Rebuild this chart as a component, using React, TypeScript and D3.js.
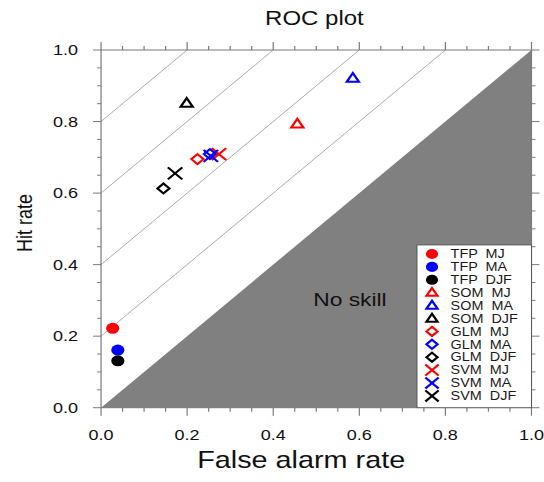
import React from 'react'
import * as d3 from 'd3'

// seasons in legend order, one colour per season
const seasons = ['MJ', 'MA', 'DJF']
const seasonColors = ['#ff0000', '#0000ff', '#000000']
const models = ['TFP', 'SOM', 'GLM', 'SVM']
const shapes = ['circle', 'triangle', 'diamond', 'cross']

// false alarm rate / hit rate, per model, in season order (MJ, MA, DJF)
const tfpFar = [0.027, 0.039, 0.039]
const tfpHit = [0.222, 0.161, 0.131]
const somFar = [0.456, 0.585, 0.199]
const somHit = [0.793, 0.921, 0.851]
const glmFar = [0.224, 0.253, 0.145]
const glmHit = [0.695, 0.709, 0.613]
const svmFar = [0.274, 0.255, 0.172]
const svmHit = [0.709, 0.704, 0.655]

const farByModel = [tfpFar, somFar, glmFar, svmFar]
const hitByModel = [tfpHit, somHit, glmHit, svmHit]

const tickValues = [0, 0.2, 0.4, 0.6, 0.8, 1.0]
const skillOffsets = [0.2, 0.4, 0.6, 0.8]

const FONT = 'Liberation Sans, Arial, Helvetica, sans-serif'
// the reference is a square plot stretched 1.2x horizontally
const SX = 1.2

const Marker = ({ shape, color, x, y, k = 1 }) => {
  if (shape === 'circle') {
    return <circle cx={x} cy={y} r={5.5 * k} fill={color} />
  }
  if (shape === 'triangle') {
    const pts = [[0, -5.2], [5, 3.4], [-5, 3.4]].map(p => `${x + p[0] * k},${y + p[1] * k}`).join(' ')
    return <polygon points={pts} fill="none" stroke={color} strokeWidth={2} />
  }
  if (shape === 'diamond') {
    const pts = [[0, -5], [5, 0], [0, 5], [-5, 0]].map(p => `${x + p[0] * k},${y + p[1] * k}`).join(' ')
    return <polygon points={pts} fill="none" stroke={color} strokeWidth={2} />
  }
  const s = 6 * k
  return (
    <g stroke={color} strokeWidth={2}>
      <line x1={x - s} y1={y - s} x2={x + s} y2={y + s} />
      <line x1={x - s} y1={y + s} x2={x + s} y2={y - s} />
    </g>
  )
}

export default function App () {
  const width = 544
  const height = 482

  const xScale = d3.scaleLinear().domain([0, 1]).range([84.2, 442.9])
  const yScale = d3.scaleLinear().domain([0, 1]).range([407.7, 50])

  const minor = d3.range(0, 1.0001, 0.05)
  const axisColor = '#7a7a7a'

  const legendTop = 254
  const legendStep = 12.9
  const legendItems = []
  models.forEach((m, mi) => {
    seasons.forEach((s, si) => {
      legendItems.push({ label: `${m}  ${s}`, shape: shapes[mi], color: seasonColors[si] })
    })
  })

  return (
    <svg width={width} height={height} style={{ position: 'absolute', left: 0, top: 0, background: '#fff' }}>
      <g transform={`scale(${SX},1)`} fontFamily={FONT}>
        {/* no-skill region */}
        <polygon
          points={[[0, 0], [1, 1], [1, 0]].map(p => `${xScale(p[0])},${yScale(p[1])}`).join(' ')}
          fill="#808080"
        />
        <text x={261} y={306.5} fontSize={19} fill="#111">No skill</text>

        {/* lines parallel to the diagonal */}
        {skillOffsets.map(c => (
          <line key={c} x1={xScale(0)} y1={yScale(c)} x2={xScale(1 - c)} y2={yScale(1)}
            stroke="#a0a0a0" strokeWidth={0.8} />
        ))}

        {/* frame */}
        <rect x={xScale(0)} y={yScale(1)} width={xScale(1) - xScale(0)} height={yScale(0) - yScale(1)}
          fill="none" stroke={axisColor} strokeWidth={1} />

        {/* ticks on all four sides, pointing outward */}
        {minor.map(v => {
          const major = Math.abs(v * 5 - Math.round(v * 5)) < 1e-6
          const len = major ? 8 : 4
          return (
            <g key={v} stroke={axisColor} strokeWidth={1}>
              <line x1={xScale(v)} x2={xScale(v)} y1={yScale(0)} y2={yScale(0) + len} />
              <line x1={xScale(v)} x2={xScale(v)} y1={yScale(1)} y2={yScale(1) - len} />
              <line y1={yScale(v)} y2={yScale(v)} x1={xScale(0)} x2={xScale(0) - len / SX} />
              <line y1={yScale(v)} y2={yScale(v)} x1={xScale(1)} x2={xScale(1) + len / SX} />
            </g>
          )
        })}

        {tickValues.map(v => (
          <text key={'x' + v} x={xScale(v)} y={440} fontSize={15} textAnchor="middle" fill="#111">
            {v.toFixed(1)}
          </text>
        ))}
        {tickValues.map(v => (
          <text key={'y' + v} x={65} y={yScale(v) + 5.3} fontSize={15} textAnchor="end" fill="#111">
            {v.toFixed(1)}
          </text>
        ))}

        {/* titles */}
        <text x={262} y={25} fontSize={20} textAnchor="middle" fill="#111">ROC plot</text>
        <text x={251} y={468} fontSize={24} textAnchor="middle" fill="#111">False alarm rate</text>
        <text transform={`translate(27,223) rotate(-90)`} fontSize={18} textAnchor="middle" fill="#111">Hit rate</text>

        {/* points */}
        {models.map((m, mi) =>
          seasons.map((s, si) => (
            <Marker key={m + s} shape={shapes[mi]} color={seasonColors[si]}
              x={xScale(farByModel[mi][si])} y={yScale(hitByModel[mi][si])} />
          ))
        )}

        {/* legend */}
        <rect x={347.5} y={245} width={xScale(1) - 347.5} height={yScale(0) - 245}
          fill="#fff" stroke="#555" strokeWidth={0.8} />
        {legendItems.map((d, i) => (
          <g key={d.label}>
            <Marker shape={d.shape} color={d.color} x={360} y={legendTop + i * legendStep} k={0.92} />
            <text x={375.5} y={legendTop + i * legendStep + 4.3} fontSize={12} fill="#1a1a1a"
              style={{ whiteSpace: 'pre' }}>{d.label}</text>
          </g>
        ))}
      </g>
    </svg>
  )
}
